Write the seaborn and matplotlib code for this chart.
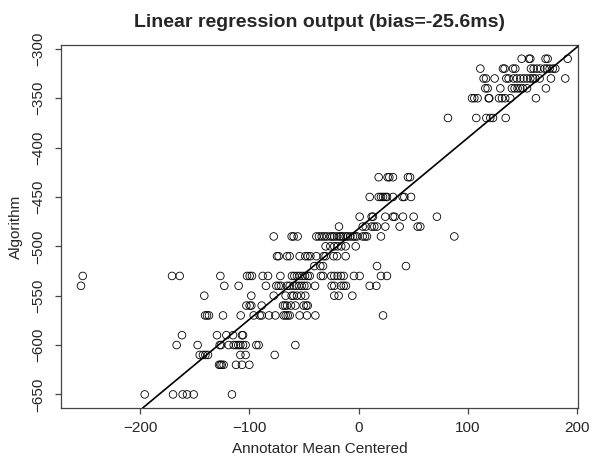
import numpy as np
import pandas as pd
import matplotlib
matplotlib.use("Agg")
import matplotlib.pyplot as plt
import seaborn as sns

# annotator mean centered values, grouped by algorithm output level
r310 = [149.1, 155.8, 157.0, 171.0, 172.9, 191.2]
r320 = [111.3, 132.0, 133.5, 141.2, 143.3, 157.6, 160.1, 163.1, 166.2, 170.1, 172.3, 174.7, 177.7, 179.9]
r330 = [114.3, 116.5, 124.4, 135.1, 137.2, 141.8, 144.8, 147.9, 150.9, 154.0, 157.0, 159.5, 161.6, 165.5, 175.9, 189.0]
r340 = [115.9, 118.0, 129.6, 140.2, 142.7, 145.4, 147.9, 150.3, 154.0, 171.3]
r350 = [103.7, 105.8, 108.8, 118.9, 119.5, 128.4, 131.1, 134.1, 138.7, 162.2]
r370 = [81.7, 107.6, 116.8, 120.4, 122.9, 134.5]
r430 = [18.3, 26.5, 28.0, 31.4, 45.1, 47.0]
r450 = [10.1, 18.3, 20.4, 22.3, 24.4, 25.9, 31.4, 40.2, 41.8, 47.9]
r470 = [0.9, 11.9, 13.1, 24.4, 31.4, 32.9, 40.5, 50.3, 71.6]
r480 = [-18.0, 3.7, 6.4, 11.9, 14.3, 16.8, 24.4, 37.5, 54.0, 56.4]
r490 = [-77.7, -61.3, -59.5, -55.8, -38.7, -36.3, -33.8, -31.4, -29.0, -25.9, -24.1, -22.3, -19.8,
        -17.4, -16.2, -14.3, -11.9, -10.1, -7.6, -5.2, -3.4, -1.5, 3.7, 5.8, 7.6, 20.4, 87.5]
r500 = [-30.2, -25.9, -22.3, -19.2, -15.9, -11.9, -2.7]
r510 = [-74.7, -73.2, -65.5, -63.1, -54.0, -48.8, -46.6, -44.2, -38.7, -32.0, -30.2, -22.9, -19.8, -11.9]
r520 = [-40.5, -35.1, -32.6, 16.8, 43.3]
r530 = [-252.4, -170.7, -163.7, -126.5, -102.1, -99.7, -97.6, -87.8, -82.9, -71.6, -61.0, -58.8, -56.4,
        -54.0, -51.5, -49.1, -46.6, -44.8, -34.5, -32.6, -25.0, -22.3, -19.2, -16.2, -13.7, -4.3, 0.9, 20.4, 25.9]
r540 = [-254.0, -122.9, -109.8, -84.8, -75.3, -73.2, -71.0, -65.5, -63.1, -59.5, -57.0, -54.6, -52.1,
        -49.7, -47.3, -39.9, -24.7, -22.3, -16.2, -13.7, -11.6, 10.1, 16.2]
r550 = [-141.2, -98.2, -77.7, -66.8, -61.3, -59.5, -56.4, -52.7, -48.8, -22.3, -18.3, -5.8]
r560 = [-102.7, -99.7, -98.2, -88.7, -69.2, -67.4, -65.5, -61.9, -57.9, -50.3, -47.9, -46.6]
r570 = [-140.5, -138.7, -136.9, -124.1, -107.9, -96.0, -90.5, -88.7, -82.0, -76.2, -68.6, -66.8,
        -64.9, -63.1, -54.0, -47.3, -39.6, 22.3]
r590 = [-161.6, -129.6, -121.0, -114.9, -106.7, -105.8]
r600 = [-166.5, -147.3, -127.1, -125.9, -118.9, -114.3, -112.2, -110.1, -108.2, -105.8, -103.4,
        -93.6, -91.5, -57.9]
r610 = [-145.4, -142.4, -140.2, -137.8, -108.2, -103.4, -76.8]
r620 = [-127.7, -126.5, -125.3, -123.5, -112.2, -106.7, -100.0]
r650 = [-195.7, -169.8, -161.0, -157.0, -150.9, -115.9]

levels = [-310, -320, -330, -340, -350, -370, -430, -450, -470, -480, -490, -500, -510,
          -520, -530, -540, -550, -560, -570, -590, -600, -610, -620, -650]
rows = [r310, r320, r330, r340, r350, r370, r430, r450, r470, r480, r490, r500, r510,
        r520, r530, r540, r550, r560, r570, r590, r600, r610, r620, r650]

# fitted line
fit_intercept = -482.0
fit_slope = 0.92

df = pd.DataFrame({
    "annot": [v for r in rows for v in r],
    "algo": [lev for lev, r in zip(levels, rows) for _ in r],
})

sns.set_style("ticks")
plt.rcParams['font.family'] = ['Liberation Sans', 'DejaVu Sans']

fig, ax = plt.subplots(figsize=(5.92, 4.62), dpi=100)
fig.subplots_adjust(left=0.103, right=0.977, top=0.903, bottom=0.117)

sns.scatterplot(data=df, x="annot", y="algo", ax=ax, marker="o", s=30,
                facecolor="none", edgecolor="black", linewidth=0.6, zorder=3)
ax.axline((0, fit_intercept), slope=fit_slope, color="black", lw=1.2, zorder=4)

ax.set_xlim(-272.3, 201)
ax.set_ylim(-663.7, -295.9)
ax.set_xticks([-200, -100, 0, 100, 200])
ax.set_yticks(np.arange(-650, -299, 50))

for sp in ax.spines.values():
    sp.set_visible(True)
    sp.set_color("#444444")
    sp.set_linewidth(0.9)
ax.tick_params(length=4.5, width=0.9, color="#444444", labelsize=11, pad=5)
ax.tick_params(axis="y", labelrotation=90, pad=6.5)
for lab in ax.get_yticklabels():
    lab.set_va("center")

ax.set_xlabel("Annotator Mean Centered", fontsize=11, labelpad=5)
ax.set_ylabel("Algorithm", fontsize=11, labelpad=6)
ax.set_title("Linear regression output (bias=-25.6ms)", fontsize=14, fontweight="bold", pad=13)

fig.savefig("out.png", dpi=100)
